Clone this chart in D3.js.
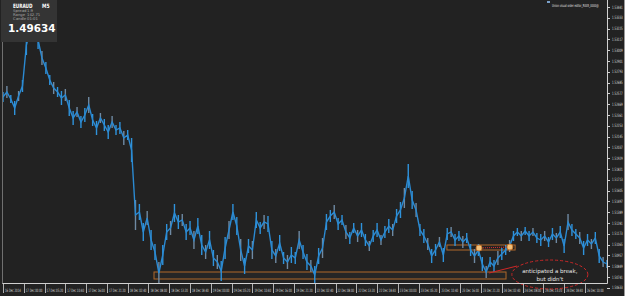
<!DOCTYPE html>
<html>
<head>
<meta charset="utf-8">
<script src="https://cdn.jsdelivr.net/npm/d3@7"></script>
<style>
  html, body { margin: 0; padding: 0; background: #222222; }
  svg { display: block; }
</style>
</head>
<body>
<script>
// EURAUD M5, one sample every 12 bars
const closes = [
  1.52541, 1.52591, 1.52521, 1.52431, 1.52551, 1.52651, 1.53061, 1.53211, 1.53261, 1.53111,
  1.52931, 1.52831, 1.52711, 1.52631, 1.52591, 1.52531, 1.52561, 1.52431, 1.52331, 1.52391,
  1.52291, 1.52361, 1.52461, 1.52311, 1.52231, 1.52331, 1.52261, 1.52191, 1.52291, 1.52211,
  1.52231, 1.52131, 1.52161, 1.52011, 1.51361, 1.51391, 1.51191, 1.51331, 1.51111, 1.50991,
  1.50781, 1.50961, 1.51191, 1.51231, 1.51381, 1.51291, 1.51311, 1.51191, 1.51231, 1.51111,
  1.51251, 1.51061, 1.50991, 1.51111, 1.50931, 1.50891, 1.50801, 1.51031, 1.51211, 1.51391,
  1.51251, 1.51011, 1.50851, 1.51051, 1.51011, 1.51311, 1.51231, 1.51291, 1.51271, 1.51011,
  1.50951, 1.51081, 1.50931, 1.50891, 1.50961, 1.50931, 1.51111, 1.50991, 1.50891, 1.50851,
  1.50761, 1.50951, 1.51031, 1.51291, 1.51351, 1.51391, 1.51271, 1.51311, 1.51191, 1.51131,
  1.51231, 1.51151, 1.51211, 1.51111, 1.51051, 1.51151, 1.51211, 1.51111, 1.51191, 1.51251,
  1.51211, 1.51351, 1.51411, 1.51531, 1.51751, 1.51511, 1.51411, 1.51211, 1.51151, 1.51071,
  1.50951, 1.51011, 1.51091, 1.50961, 1.51171, 1.51191, 1.51111, 1.51151, 1.51091, 1.51131,
  1.51011, 1.50951, 1.51011, 1.50871, 1.50791, 1.50891, 1.50851, 1.50931, 1.50971, 1.51011,
  1.51051, 1.51151, 1.51191, 1.51151, 1.51201, 1.51151, 1.51191, 1.51131, 1.51111, 1.51151,
  1.51091, 1.51171, 1.51131, 1.51191, 1.51051, 1.51291, 1.51211, 1.51171, 1.51131, 1.51031,
  1.51111, 1.51071, 1.51131, 1.50951, 1.50891, 1.50871
];
// high-low span of the bars around each sample, in pips
const spans = [
  10, 12, 8, 14, 10, 12, 20, 10, 10, 18,
  14, 12, 10, 12, 10, 14, 12, 16, 14, 10,
  12, 14, 16, 12, 14, 10, 12, 14, 12, 10,
  12, 14, 10, 24, 30, 16, 18, 14, 20, 16,
  22, 20, 16, 14, 18, 14, 12, 16, 14, 18,
  16, 20, 14, 18, 16, 14, 20, 22, 18, 16,
  18, 22, 16, 14, 18, 16, 12, 14, 16, 18,
  14, 16, 12, 14, 16, 12, 18, 14, 16, 12,
  18, 16, 20, 16, 12, 14, 12, 10, 14, 12,
  10, 12, 14, 12, 10, 12, 14, 10, 12, 14,
  12, 14, 16, 20, 24, 18, 14, 12, 14, 12,
  14, 12, 10, 14, 12, 10, 12, 10, 12, 10,
  12, 14, 12, 14, 12, 10, 12, 14, 12, 10,
  12, 10, 8, 10, 8, 10, 8, 10, 12, 10,
  10, 12, 10, 12, 14, 16, 12, 10, 12, 14,
  12, 10, 12, 14, 10, 8
];
const barsPerSample = 12;
const totalBars = 1860;
const pip = 0.0001;

const timeLabels = [
  "16 Dec 2014", "17 Dec 00:00", "17 Dec 05:20", "17 Dec 10:40", "17 Dec 16:00",
  "17 Dec 21:20", "18 Dec 02:40", "18 Dec 08:00", "18 Dec 13:20", "18 Dec 18:40",
  "19 Dec 00:00", "19 Dec 05:20", "19 Dec 10:40", "19 Dec 16:00", "19 Dec 21:20",
  "22 Dec 02:40", "22 Dec 08:00", "22 Dec 13:20", "22 Dec 18:40", "23 Dec 00:00",
  "23 Dec 05:20", "23 Dec 10:40", "23 Dec 16:00", "23 Dec 21:20", "24 Dec 02:40",
  "24 Dec 08:00", "24 Dec 13:20", "24 Dec 18:40", "26 Dec 10:00"
];
const barsPerLabel = 64;

const priceTicks = [
  1.53441, 1.53333, 1.53225, 1.53117, 1.53009, 1.52901, 1.52793, 1.52685, 1.52577,
  1.52469, 1.52361, 1.52253, 1.52145, 1.52037, 1.51929, 1.51821, 1.51713, 1.51605,
  1.51497, 1.51389, 1.51281, 1.51173, 1.51065, 1.50957, 1.50849, 1.50741, 1.50633
];

// objects drawn on the chart (bar index, price)
const supportBox = { bar1: 465, bar2: 1549, p1: 1.50791, p2: 1.50721 };
const rangeBox = { bar1: 1367, bar2: 1577, p1: 1.51061, p2: 1.51011 };
const touches = [ { bar: 1466, p: 1.51031 }, { bar: 1561, p: 1.51041 } ];
const pointer = [ { bar: 1497, p: 1.50781 }, { bar: 1583, p: 1.50851 } ];
const note = { bar: 1684, p: 1.50766, lines: ["anticipated a break,", "but didn't"] };

const info = { symbol: "EURAUD", period: "M5", spread: "1.9", range: "142.71", candle: "01:01", bid: "1.49634" };
const title = "Union visual order editor_R005_0000@";

const W = 625, H = 296;
const plotLeft = 3, plotRight = 607, plotTop = 0, plotBottom = 283;

const svg = d3.select("body").append("svg").attr("width", W).attr("height", H);
svg.append("rect").attr("width", W).attr("height", H).attr("fill", "#222222");

const x = d3.scaleLinear().domain([0, totalBars]).range([plotLeft, plotRight]);
const y = d3.scaleLinear().domain([1.53511, 1.50681]).range([plotTop, plotBottom]);

const font = "'DejaVu Sans', Verdana, sans-serif";

// squeezed text, like the small terminal font
function label(parent, tx, ty, str, size, sx, fill, weight) {
  return parent.append("text")
    .attr("transform", `translate(${tx},${ty}) scale(${sx},1)`)
    .attr("fill", fill)
    .style("font", `${weight || "normal"} ${size}px ${font}`)
    .text(str);
}

// objects behind price
const g = svg.append("g");
g.append("rect")
  .attr("x", x(supportBox.bar1)).attr("y", y(supportBox.p1))
  .attr("width", x(supportBox.bar2) - x(supportBox.bar1))
  .attr("height", y(supportBox.p2) - y(supportBox.p1))
  .attr("fill", "#262626").attr("stroke", "#b0682a").attr("stroke-width", 1);
g.append("rect")
  .attr("x", x(rangeBox.bar1)).attr("y", y(rangeBox.p1))
  .attr("width", x(rangeBox.bar2) - x(rangeBox.bar1))
  .attr("height", y(rangeBox.p2) - y(rangeBox.p1))
  .attr("fill", "none").attr("stroke", "#b0682a").attr("stroke-width", 1);

// bar ranges
svg.append("g").selectAll("line").data(closes).enter().append("line")
  .attr("x1", (d, i) => x(i * barsPerSample)).attr("x2", (d, i) => x(i * barsPerSample))
  .attr("y1", (d, i) => y(d + spans[i] * pip / 2))
  .attr("y2", (d, i) => y(d - spans[i] * pip / 2))
  .attr("stroke", (d, i) => i % 3 === 1 ? "#6f8aa3" : "#2f93dc")
  .attr("stroke-width", 1.4);

// price line
const line = d3.line()
  .x((d, i) => x(i * barsPerSample))
  .y(d => y(d));
svg.append("path")
  .datum(closes)
  .attr("d", line)
  .attr("fill", "none")
  .attr("stroke", "#2b8ad2")
  .attr("stroke-width", 1.4);

// touches
svg.append("line")
  .attr("x1", x(touches[0].bar)).attr("y1", y(touches[0].p))
  .attr("x2", x(touches[1].bar)).attr("y2", y(touches[1].p))
  .attr("stroke", "#e03030").attr("stroke-dasharray", "1,1");
svg.selectAll("circle.touch").data(touches).enter().append("circle")
  .attr("class", "touch")
  .attr("cx", d => x(d.bar)).attr("cy", d => y(d.p)).attr("r", 3)
  .attr("fill", "#f3c27a").attr("stroke", "#c9772e").attr("stroke-width", 1);

// pointer + note
svg.append("line")
  .attr("x1", x(pointer[0].bar)).attr("y1", y(pointer[0].p))
  .attr("x2", x(pointer[1].bar)).attr("y2", y(pointer[1].p))
  .attr("stroke", "#d02828").attr("stroke-width", 1);
svg.append("ellipse")
  .attr("cx", x(note.bar)).attr("cy", y(note.p)).attr("rx", 38).attr("ry", 14.5)
  .attr("fill", "none").attr("stroke", "#c82828").attr("stroke-width", 1)
  .attr("stroke-dasharray", "3,2");
note.lines.forEach((t, i) => {
  svg.append("text")
    .attr("x", x(note.bar)).attr("y", y(note.p) - 2 + i * 8)
    .attr("text-anchor", "middle").attr("fill", "#e8e8e8")
    .style("font", `5.5px ${font}`)
    .text(t);
});

// frame
svg.append("line").attr("x1", plotRight + 0.5).attr("x2", plotRight + 0.5).attr("y1", 0).attr("y2", plotBottom + 0.5)
  .attr("stroke", "#d0d0d0");
svg.append("line").attr("x1", 2).attr("x2", plotRight + 0.5).attr("y1", plotBottom + 0.5).attr("y2", plotBottom + 0.5)
  .attr("stroke", "#d0d0d0");
svg.append("line").attr("x1", 2.5).attr("x2", 2.5).attr("y1", 0).attr("y2", plotBottom + 0.5)
  .attr("stroke", "#707070");
svg.append("line").attr("x1", 624.5).attr("x2", 624.5).attr("y1", 0).attr("y2", H)
  .attr("stroke", "#9a9a9a").attr("stroke-width", 1);

// price axis
const yAxis = svg.append("g");
yAxis.selectAll("line").data(priceTicks).enter().append("line")
  .attr("x1", plotRight).attr("x2", plotRight + 3)
  .attr("y1", d => Math.round(y(d)) + 0.5).attr("y2", d => Math.round(y(d)) + 0.5)
  .attr("stroke", "#d0d0d0");
priceTicks.forEach(d => label(yAxis, plotRight + 5, y(d) + 1.6, d.toFixed(5), 4.5, 0.58, "#dcdcdc"));

// time axis
const xAxis = svg.append("g");
xAxis.selectAll("line").data(timeLabels).enter().append("line")
  .attr("x1", (d, i) => Math.round(x(i * barsPerLabel)) + 0.5)
  .attr("x2", (d, i) => Math.round(x(i * barsPerLabel)) + 0.5)
  .attr("y1", plotBottom + 1).attr("y2", plotBottom + 10)
  .attr("stroke", "#b0b0b0");
timeLabels.forEach((d, i) => label(xAxis, x(i * barsPerLabel) + 2, plotBottom + 9, d, 4.5, 0.55, "#dcdcdc"));

// info panel
const panel = svg.append("g");
panel.append("rect").attr("x", 1).attr("y", 0).attr("width", 56).attr("height", 42)
  .attr("fill", "#343434");
label(panel, 13, 7.5, info.symbol, 6, 0.7, "#ffffff", "bold");
label(panel, 42, 7.5, info.period, 6, 0.75, "#ffffff", "bold");
const rows = [["Spread", info.spread], ["Range", info.range], ["Candle", info.candle]];
rows.forEach((r, i) => {
  label(panel, 13, 12 + i * 3.9, r[0], 3.8, 1, "#a8a8a8");
  label(panel, 27, 12 + i * 3.9, r[1], 3.8, 1, "#a8a8a8");
});
label(panel, 8, 32, info.bid, 11, 0.95, "#ffffff", "bold");

// expert title
svg.append("rect").attr("x", 547).attr("y", 1).attr("width", 3).attr("height", 2).attr("fill", "#7aa0c8");
label(svg, 552, 6.5, title, 4, 0.6, "#e0e0e0");
</script>
</body>
</html>
